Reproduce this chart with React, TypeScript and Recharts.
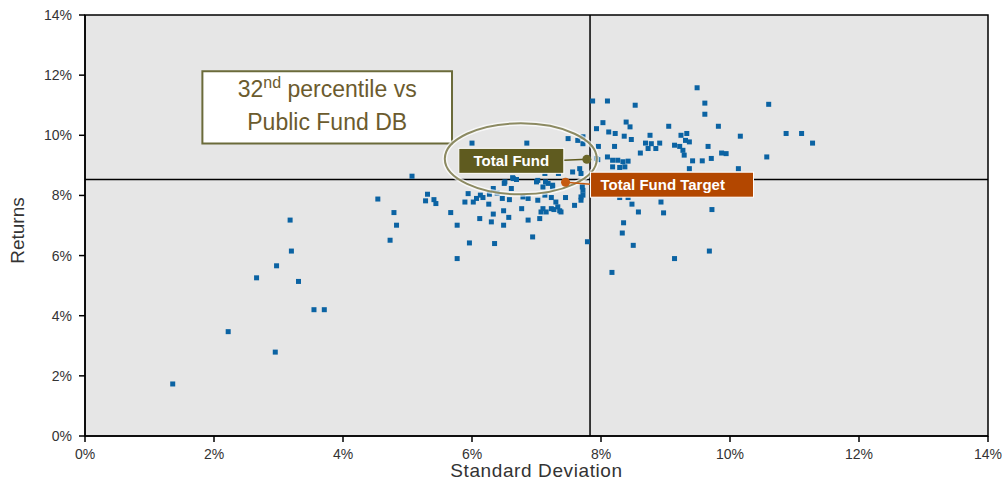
import React from "react";
import {
  ScatterChart,
  Scatter,
  XAxis,
  YAxis,
  CartesianGrid,
  ReferenceLine,
  ReferenceArea,
  Label,
} from "recharts";

// Peer universe: [standard deviation %, return %]
const peerFunds: [number, number][] = [
  [1.36, 1.73], [2.22, 3.47], [2.95, 2.79], [2.66, 5.26], [3.31, 5.14], [2.97, 5.66],
  [3.2, 6.15], [3.18, 7.18], [3.55, 4.2], [3.71, 4.2],
  [5.07, 8.64], [4.54, 7.88], [5.31, 8.04], [5.28, 7.82], [5.41, 7.86], [5.44, 7.73],
  [4.79, 7.43], [5.67, 7.43], [4.83, 7.01], [4.73, 6.51], [5.77, 7.01], [5.77, 5.9],
  [6.0, 9.74], [6.85, 9.74], [5.94, 8.06], [5.89, 7.78], [6.07, 7.9], [6.13, 8.01],
  [6.26, 7.71], [6.33, 8.23], [6.5, 8.4], [6.63, 8.59], [6.69, 8.53], [6.61, 8.23],
  [6.39, 8.08], [6.47, 7.9], [6.12, 7.23], [6.33, 7.38], [6.3, 7.12], [6.49, 7.49],
  [6.49, 7.01], [6.57, 7.27], [6.35, 6.4], [5.96, 6.42], [6.77, 7.56], [6.87, 7.18],
  [6.79, 7.95], [6.87, 7.9], [6.94, 6.62], [7.02, 7.84], [7.05, 7.23], [7.13, 8.01],
  [7.15, 7.45], [7.23, 7.56], [7.3, 7.78], [7.33, 7.62], [7.38, 7.45], [7.45, 7.93],
  [7.59, 7.67], [7.69, 7.95], [7.72, 8.17], [7.25, 8.28], [7.1, 8.28], [7.14, 8.45],
  [7.02, 8.5], [7.79, 6.46], [7.49, 9.89], [7.64, 9.83], [7.72, 9.72], [7.67, 8.89],
  [7.56, 8.78], [7.69, 8.73], [7.87, 11.14], [7.93, 10.22], [7.93, 9.23], [7.72, 9.95],
  [7.34, 8.73], [7.13, 8.73], [6.64, 8.56], [6.51, 8.45], [7.0, 8.45],
  [7.18, 8.4], [7.25, 8.34], [6.58, 7.86], [6.27, 8.04], [6.17, 7.93], [6.02, 7.78],
  [7.07, 7.45], [7.27, 7.53], [7.36, 7.49], [7.72, 8.01], [7.69, 7.84], [7.23, 7.93],
  [7.1, 7.56], [7.71, 8.28],
  [9.49, 11.58], [8.1, 11.14], [8.53, 11.0], [9.61, 11.07], [9.61, 10.7], [10.6, 11.03],
  [8.03, 10.42], [8.39, 10.44], [8.45, 10.28], [9.05, 10.3], [9.82, 10.3], [10.87, 10.06],
  [11.11, 10.06], [11.28, 9.74], [10.16, 9.97], [8.12, 10.11], [8.22, 10.06], [8.36, 9.97],
  [8.47, 9.86], [8.76, 10.0], [8.69, 9.74], [8.78, 9.72], [8.91, 9.74], [8.73, 9.56],
  [8.85, 9.56], [8.61, 9.41], [9.24, 10.0], [9.33, 10.06], [9.31, 9.83], [9.37, 9.78],
  [9.14, 9.67], [9.22, 9.63], [9.27, 9.5], [9.29, 9.34], [9.66, 9.63], [9.94, 9.39],
  [9.42, 9.15], [9.57, 9.15], [9.71, 9.23], [10.57, 9.28], [9.37, 8.89], [10.13, 8.89],
  [7.96, 9.63], [8.21, 9.63], [8.1, 9.28], [8.18, 9.17], [8.26, 9.17], [8.34, 9.12],
  [8.42, 9.14], [7.95, 9.19], [8.18, 8.95], [8.29, 8.93], [8.37, 8.95], [8.29, 7.93],
  [8.42, 7.93], [8.48, 7.71], [8.93, 7.78], [8.97, 7.42], [8.58, 7.45], [9.72, 7.53],
  [8.35, 7.09], [8.33, 6.75], [8.5, 6.34], [9.68, 6.15], [9.14, 5.9], [8.17, 5.44],
  [9.87, 9.41],
];

const totalFund: [number, number] = [7.78, 9.2];
const totalFundTarget: [number, number] = [7.45, 8.44];
const medianStdDev = 7.83;
const medianReturn = 8.53;

const axisTicks = [0, 2, 4, 6, 8, 10, 12, 14];
const calloutLines = ["32", "nd", " percentile vs", "Public Fund DB"];
const calloutBox = { x1: 1.82, x2: 5.69, y1: 9.73, y2: 12.13 };

const peerData = peerFunds.map(([x, y]) => ({ x, y }));
const fundData = [{ x: totalFund[0], y: totalFund[1] }];
const targetData = [{ x: totalFundTarget[0], y: totalFundTarget[1] }];

const FONT = "Arial, 'Liberation Sans', sans-serif";
const pct = (v: number) => `${v}%`;

const PeerShape = (p: any) => (
  <rect x={p.cx - 2.5} y={p.cy - 2.5} width={5} height={5} fill="#0b63a3" />
);

const FundShape = (p: any) => {
  const { cx, cy } = p;
  return (
    <g>
      <ellipse cx={cx - 66} cy={cy - 0.5} rx={76} ry={35.5} fill="none" stroke="#ffffff" strokeWidth={5} opacity={0.7} />
      <ellipse cx={cx - 66} cy={cy - 0.5} rx={76} ry={35.5} fill="none" stroke="#8c8a62" strokeWidth={2} />
      <line x1={cx - 23} y1={cy + 1} x2={cx} y2={cy} stroke="#5f5b1f" strokeWidth={1.5} />
      <rect x={cx - 128} y={cy - 11} width={105} height={25} fill="#5f5b1f" stroke="#ffffff" strokeWidth={1} />
      <text x={cx - 75.5} y={cy + 7} textAnchor="middle" fill="#ffffff" fontSize={15} fontWeight="bold" fontFamily={FONT}>
        Total Fund
      </text>
      <circle cx={cx} cy={cy} r={4.5} fill="#6b6628" />
    </g>
  );
};

const TargetShape = (p: any) => {
  const { cx, cy } = p;
  return (
    <g>
      <line x1={cx} y1={cy} x2={cx + 25} y2={cy + 2} stroke="#c55a11" strokeWidth={1.5} />
      <rect x={cx + 25} y={cy - 10} width={163} height={25} fill="#b34700" stroke="#ffffff" strokeWidth={1} />
      <text x={cx + 35} y={cy + 8} fill="#ffffff" fontSize={15} fontWeight="bold" fontFamily={FONT}>
        Total Fund Target
      </text>
      <circle cx={cx} cy={cy} r={4.5} fill="#c55a11" />
    </g>
  );
};

const CalloutLabel = (props: any) => {
  const vb = props.viewBox || {};
  const cx = vb.x + vb.width / 2;
  return (
    <g>
      <text x={cx} y={vb.y + 26} textAnchor="middle" fill="#6b5b2e" fontSize={23} fontFamily={FONT}>
        {calloutLines[0]}
        <tspan fontSize={16} dy={-9}>{calloutLines[1]}</tspan>
        <tspan dy={9}>{calloutLines[2]}</tspan>
      </text>
      <text x={cx} y={vb.y + 59} textAnchor="middle" fill="#6b5b2e" fontSize={23} fontFamily={FONT}>
        {calloutLines[3]}
      </text>
    </g>
  );
};

const YTitle = (props: any) => {
  const vb = props.viewBox || {};
  const x = vb.x + 24;
  const y = vb.y + vb.height / 2 + 5;
  return (
    <text x={x} y={y} transform={`rotate(-90, ${x}, ${y})`} textAnchor="middle" fill="#333" fontSize={19} fontFamily={FONT}>
      Returns
    </text>
  );
};

const XTitle = (props: any) => {
  const vb = props.viewBox || {};
  return (
    <text x={vb.x + vb.width / 2} y={vb.y + vb.height - 5} textAnchor="middle" fill="#333" fontSize={19} letterSpacing={0.6} fontFamily={FONT}>
      Standard Deviation
    </text>
  );
};

export default function App() {
  return (
    <div style={{ position: "absolute", left: 0, top: 0, width: 1002, height: 482, background: "#fff" }}>
      <ScatterChart width={1002} height={482} margin={{ top: 15, right: 14, left: 0, bottom: 0 }}>
        <CartesianGrid fill="#e6e6e6" horizontal={false} vertical={false} />
        <XAxis
          type="number"
          dataKey="x"
          domain={[0, 14]}
          ticks={axisTicks}
          tickFormatter={pct}
          height={46}
          tickSize={6}
          tickMargin={7}
          axisLine={{ stroke: "#000", strokeWidth: 1.5 }}
          tickLine={{ stroke: "#000", strokeWidth: 1.5 }}
          tick={{ fill: "#333", fontSize: 14, fontFamily: FONT }}
          allowDataOverflow
        >
          <Label content={XTitle} />
        </XAxis>
        <YAxis
          type="number"
          dataKey="y"
          domain={[0, 14]}
          ticks={axisTicks}
          tickFormatter={pct}
          width={85}
          tickSize={6}
          tickMargin={7}
          axisLine={{ stroke: "#000", strokeWidth: 1.5 }}
          tickLine={{ stroke: "#000", strokeWidth: 1.5 }}
          tick={{ fill: "#333", fontSize: 14, fontFamily: FONT }}
          allowDataOverflow
        >
          <Label content={YTitle} />
        </YAxis>
        <ReferenceArea x1={0} x2={14} y1={0} y2={14} fill="none" stroke="#000" strokeWidth={1.5} />
        <ReferenceLine x={medianStdDev} stroke="#000" strokeWidth={1.5} />
        <ReferenceLine y={medianReturn} stroke="#000" strokeWidth={1.5} />
        <ReferenceArea
          x1={calloutBox.x1}
          x2={calloutBox.x2}
          y1={calloutBox.y1}
          y2={calloutBox.y2}
          fill="#ffffff"
          fillOpacity={1}
          stroke="#6b6b3a"
          strokeWidth={2}
          label={<CalloutLabel />}
        />
        <Scatter data={peerData} shape={PeerShape} isAnimationActive={false} />
        <Scatter data={fundData} shape={FundShape} isAnimationActive={false} />
        <Scatter data={targetData} shape={TargetShape} isAnimationActive={false} />
      </ScatterChart>
    </div>
  );
}
